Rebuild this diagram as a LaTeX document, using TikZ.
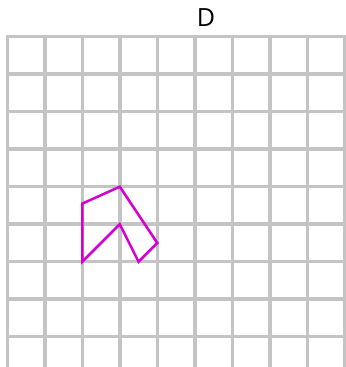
\documentclass[tikz,border=0pt]{standalone}
\usepackage{fontspec}
\setmainfont{Open Sans}
\usepackage{xcolor}
\usepackage{tikz}
\usetikzlibrary{positioning}

\definecolor{shapecol}{RGB}{210,0,210}
\definecolor{gridcol}{RGB}{196,196,196}

\begin{document}
\begin{tikzpicture}[x=1cm, y=-1cm]
		\tikzstyle{gridline} = [draw=gridcol, line width=2.6pt, line cap=rect]
		\tikzstyle{figure} = [draw=shapecol, line width=1.9pt, line join=miter]
		\tikzstyle{title} = [font=\fontsize{19}{22}\selectfont, inner sep=0pt]
		
		\useasboundingbox (-0.195, -0.979) rectangle (9.032, 8.808);
		
		\node[title]	at (5.3, -0.5)	(lab)	{D};
		
		\draw [gridline] (0, 0) grid (9, 8);
		\draw [gridline] (0, 8) -- (0, 8.9) (1, 8) -- (1, 8.9) (2, 8) -- (2, 8.9)
			(3, 8) -- (3, 8.9) (4, 8) -- (4, 8.9) (5, 8) -- (5, 8.9)
			(6, 8) -- (6, 8.9) (7, 8) -- (7, 8.9) (8, 8) -- (8, 8.9) (9, 8) -- (9, 8.9);
		
		\draw [figure] (2, 4.45) -- (3, 4) -- (4, 5.5) -- (3.5, 6) -- (3, 5) -- (2, 6) -- cycle;
	\end{tikzpicture}
\end{document}
